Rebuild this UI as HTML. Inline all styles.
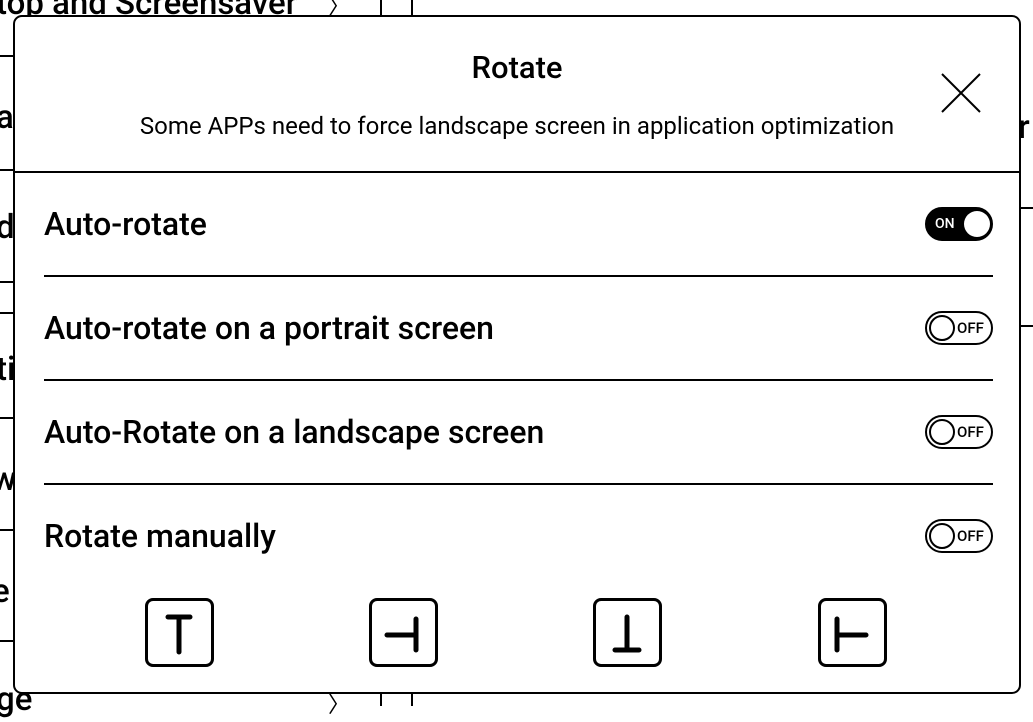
<!DOCTYPE html>
<html><head><meta charset="utf-8"><style>
html,body{margin:0;padding:0}
body{width:1033px;height:706px;position:relative;overflow:hidden;background:#fff;font-family:"Roboto","Liberation Sans",sans-serif;color:#000}
.abs{position:absolute}
.hl{position:absolute;height:2px;background:#000}
.bgt{position:absolute;font-size:33px;line-height:32px;font-weight:500}
#dlg{position:absolute;left:13px;top:15px;width:1004px;height:675px;border:2px solid #000;border-radius:9px;background:#fff}
.row{position:absolute;left:29px;font-size:32px;line-height:32px;font-weight:500}
.tog{position:absolute;left:910px;width:68px;height:34px;box-sizing:border-box;border:2px solid #000;border-radius:17px}
.btn{position:absolute;top:581px;width:69px;height:69px;box-sizing:border-box;border:3px solid #000;border-radius:8px}
</style></head><body>
<div class="bgt" style="left:-4px;top:-12px">top and Screensaver</div>
<div class="bgt" style="left:328px;top:-8px;font-size:22px;font-weight:400">〉</div>
<div class="abs" style="left:380px;top:0;width:2px;height:706px;background:#000"></div>
<div class="abs" style="left:411px;top:0;width:2px;height:706px;background:#000"></div>
<div class="hl" style="left:0;top:55px;width:13px"></div>
<div class="hl" style="left:0;top:169px;width:13px"></div>
<div class="hl" style="left:0;top:281px;width:13px"></div>
<div class="hl" style="left:0;top:312px;width:13px"></div>
<div class="hl" style="left:0;top:417px;width:13px"></div>
<div class="hl" style="left:0;top:529px;width:13px"></div>
<div class="hl" style="left:0;top:640px;width:13px"></div>
<div class="hl" style="left:1021px;top:207px;width:12px"></div>
<div class="hl" style="left:1021px;top:325px;width:12px"></div>
<div class="bgt" style="left:-4px;top:102px">a</div>
<div class="bgt" style="left:-4px;top:212px">d</div>
<div class="bgt" style="left:-4px;top:354px">ti</div>
<div class="bgt" style="left:-8px;top:464px">w</div>
<div class="bgt" style="left:-8px;top:576px">e</div>
<div class="bgt" style="left:-4px;top:684px">ge</div>
<div class="bgt" style="left:328px;top:690px;font-size:22px;font-weight:400">〉</div>
<div class="bgt" style="left:1018px;top:112px">r</div>
<div id="dlg">
 <div class="abs" style="left:0;width:1004px;top:34px;text-align:center;font-size:31px;line-height:34px;font-weight:500">Rotate</div>
 <div class="abs" style="left:0;width:1004px;top:95px;text-align:center;font-size:24px;line-height:28px">Some APPs need to force landscape screen in application optimization</div>
 <svg class="abs" style="left:925px;top:55px" width="44" height="42"><path d="M2 2L40 40M40 2L2 40" stroke="#000" stroke-width="2"/></svg>
 <div class="hl" style="left:0;top:154px;width:1004px"></div>
 <div class="row" style="top:191px">Auto-rotate</div>
 <div class="tog" style="top:190px;background:#000;"><span class="abs" style="left:8px;top:7px;color:#fff;font-size:14px;line-height:16px;font-weight:500">ON</span><span class="abs" style="left:37px;top:2px;width:26px;height:26px;border-radius:50%;background:#fff"></span></div>
 <div class="hl" style="left:29px;top:258px;width:949px"></div>
 <div class="row" style="top:295px">Auto-rotate on a portrait screen</div>
 <div class="tog" style="top:294px"><span class="abs" style="left:2px;top:2px;width:22px;height:22px;border:2px solid #000;border-radius:50%"></span><span class="abs" style="left:30px;top:7px;font-size:15px;line-height:16px;font-weight:500">OFF</span></div>
 <div class="hl" style="left:29px;top:362px;width:949px"></div>
 <div class="row" style="top:399px">Auto-Rotate on a landscape screen</div>
 <div class="tog" style="top:398px"><span class="abs" style="left:2px;top:2px;width:22px;height:22px;border:2px solid #000;border-radius:50%"></span><span class="abs" style="left:30px;top:7px;font-size:15px;line-height:16px;font-weight:500">OFF</span></div>
 <div class="hl" style="left:29px;top:466px;width:949px"></div>
 <div class="row" style="top:503px">Rotate manually</div>
 <div class="tog" style="top:502px"><span class="abs" style="left:2px;top:2px;width:22px;height:22px;border:2px solid #000;border-radius:50%"></span><span class="abs" style="left:30px;top:7px;font-size:15px;line-height:16px;font-weight:500">OFF</span></div>
 <div class="btn" style="left:130px"><svg width="63" height="63"><path d="M20 16H42M31 16V51" stroke="#000" stroke-width="5" stroke-linecap="round"/></svg></div>
 <div class="btn" style="left:354px"><svg width="63" height="63"><path d="M44 18V49M15 34H44" stroke="#000" stroke-width="5" stroke-linecap="round"/></svg></div>
 <div class="btn" style="left:578px"><svg width="63" height="63"><path d="M31 16V49M19 49H43" stroke="#000" stroke-width="5" stroke-linecap="round"/></svg></div>
 <div class="btn" style="left:803px"><svg width="63" height="63"><path d="M16 18V49M16 34H45" stroke="#000" stroke-width="5" stroke-linecap="round"/></svg></div>
</div>
</body></html>
